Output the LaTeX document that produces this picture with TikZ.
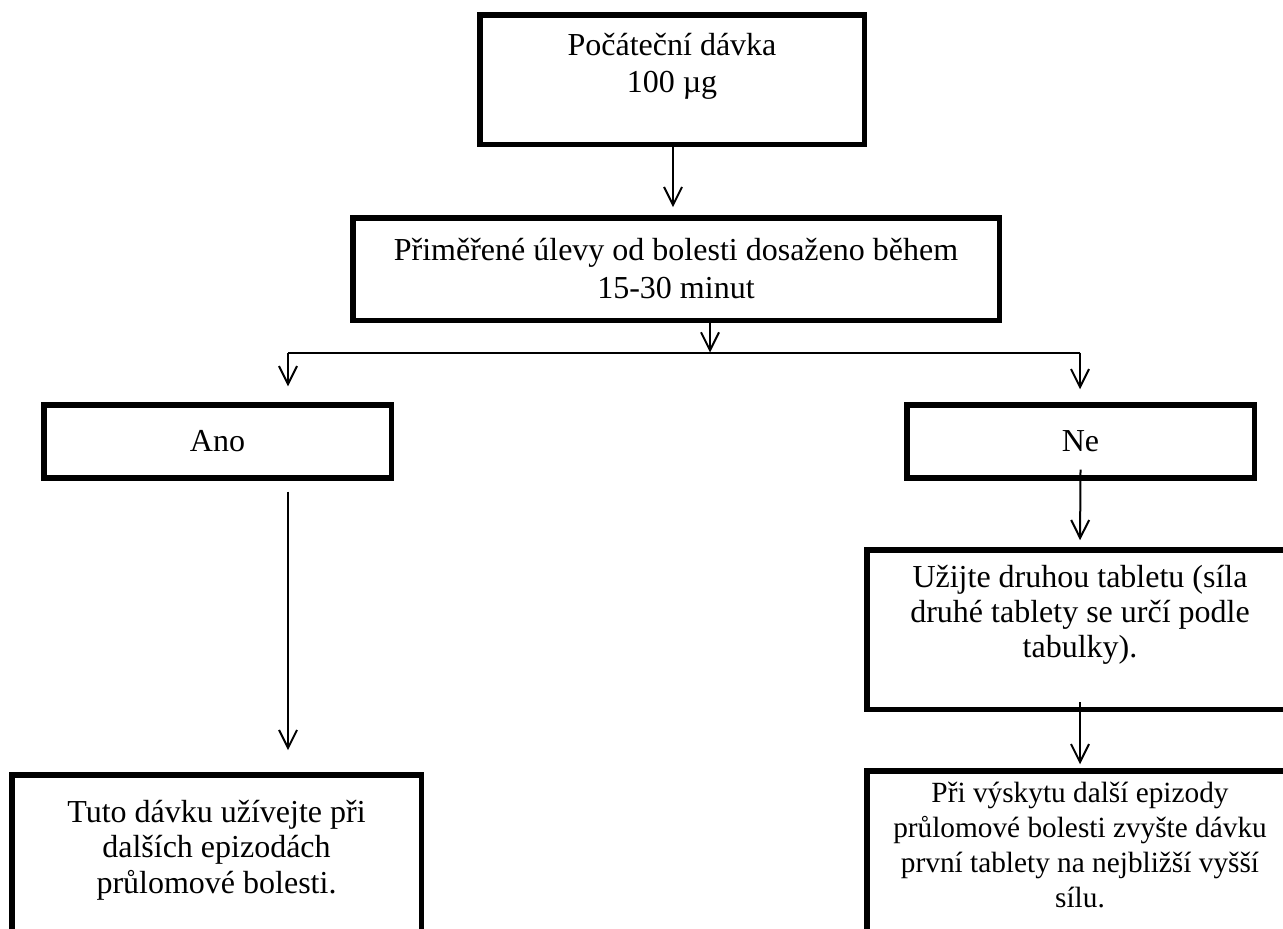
\documentclass[tikz,border=0pt]{standalone}
\usepackage{fontspec}
\setmainfont{Liberation Serif}
\usetikzlibrary{arrows.meta}
\newcommand{\lowpad}[1]{\rule[-#1]{0pt}{#1}}

\begin{document}
\begin{tikzpicture}[
    x=0.5pt, y=-0.5pt,
    box/.style={rectangle, draw, line width=2.75pt, inner sep=0pt, align=center, font=\fontsize{16}{18.5}\selectfont},
    arrow/.style={-{Straight Barb[length=9pt,width=9pt]}, line width=1pt}
]
\useasboundingbox (0,0) rectangle (1283,928);
\clip (0,0) rectangle (1283,928);

\node[box, minimum width=192.25pt, minimum height=64.75pt] (start) at (672,79.5) {Počáteční dávka\\100 µg\lowpad{17pt}};
\node[box, minimum width=323.25pt, minimum height=51.25pt, font=\fontsize{16}{19}\selectfont] (relief) at (676,269) {Přiměřené úlevy od bolesti dosaženo během\\15-30 minut};
\node[box, minimum width=173.75pt, minimum height=36.5pt] (ano) at (217.5,441.5) {Ano};
\node[box, minimum width=173.75pt, minimum height=36.5pt] (ne) at (1080.5,441.5) {Ne};
\node[box, minimum width=213.25pt, minimum height=79.75pt, font=\fontsize{16}{17.5}\selectfont] (use) at (1080,629.5) {Užijte druhou tabletu (síla\\druhé tablety se určí podle\\tabulky).\lowpad{18.5pt}};
\node[box, minimum width=204.75pt, minimum height=90pt, font=\fontsize{16}{17.75}\selectfont] (keep) at (216.5,864.75) {Tuto dávku užívejte při\\dalších epizodách\\průlomové bolesti.\lowpad{18.25pt}};
\node[box, minimum width=213.25pt, minimum height=90pt, font=\fontsize{14.65}{17.5}\selectfont] (next) at (1080,861) {Při výskytu další epizody\\průlomové bolesti zvyšte dávku\\první tablety na nejbližší vyšší\\sílu.\lowpad{16.5pt}};

\coordinate (split) at (710,352.5);
\coordinate (lft) at (288,352.5);
\coordinate (rgt) at (1080,352.5);

\draw[arrow, shorten >=3.9pt] (start.south -| 673,0) -- (673,0 |- relief.north);
\draw[arrow] (relief.south -| split) -- (split);
\draw[line width=1pt] (lft) -- (rgt);
\draw[arrow, shorten >=8pt] (lft) -- (lft |- ano.north);
\draw[arrow, shorten >=6.5pt] (rgt) -- (rgt |- ne.north);
\draw[arrow, shorten <=5.4pt, shorten >=10.9pt] (lft |- ano.south) -- (lft |- keep.north);
\draw[arrow, shorten >=3.4pt] ([yshift=5.6pt]ne.south) -- (use.north);
\draw[arrow, shorten >=2pt] ([yshift=5pt]use.south) -- (next.north);
\end{tikzpicture}
\end{document}
